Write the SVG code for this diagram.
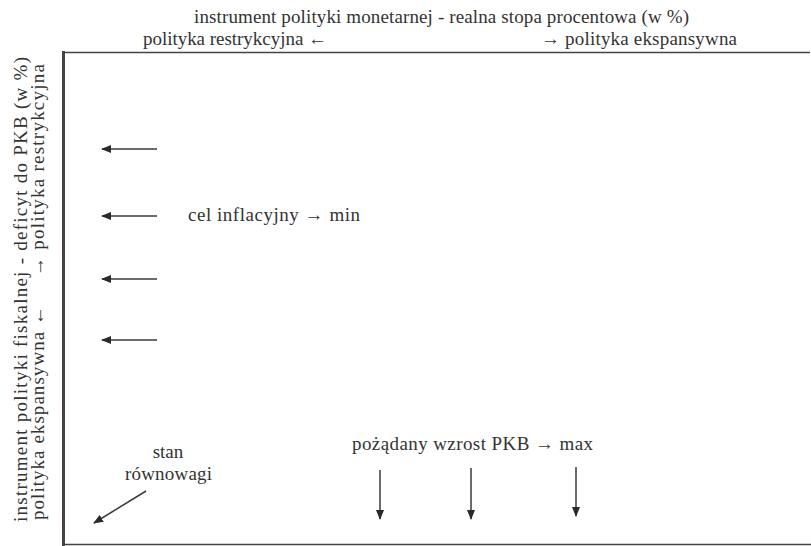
<svg xmlns="http://www.w3.org/2000/svg" width="811" height="546" viewBox="0 0 811 546">
<style>
text{font-family:"Liberation Serif","Times New Roman",serif;font-size:19px;fill:#333}
.ax{stroke:#444;fill:none}
.ar{stroke:#3a3a3a;stroke-width:1.5;fill:none}
</style>
<defs>
<marker id="ah" viewBox="0 0 10 8" refX="9" refY="4" markerWidth="10" markerHeight="8" markerUnits="userSpaceOnUse" orient="auto">
<path d="M0,0 L10,4 L0,8 Z" fill="#2b2b2b"/>
</marker>
</defs>
<rect width="811" height="546" fill="#fff"/>
<g id="frame">
<line class="ax" x1="62" y1="52.5" x2="810" y2="52.5" stroke-width="1.4" stroke="#555"/>
<line class="ax" x1="63.5" y1="51" x2="63.5" y2="546" stroke-width="3" stroke="#333"/>
<line class="ax" x1="62" y1="544.5" x2="811" y2="544.5" stroke-width="1.3" stroke="#888"/>
</g>
<g id="axis-top">
<text x="194" y="23" textLength="495" lengthAdjust="spacing">instrument polityki monetarnej - realna stopa procentowa (w %)</text>
<text x="143" y="45" textLength="184" lengthAdjust="spacing">polityka restrykcyjna ←</text>
<text x="541" y="45" textLength="196" lengthAdjust="spacing">→ polityka ekspansywna</text>
</g>
<g id="axis-left">
<text transform="translate(27,522) rotate(-90)" x="0" y="0" textLength="465" lengthAdjust="spacing">instrument polityki fiskalnej - deficyt do PKB (w %)</text>
<text transform="translate(44,520) rotate(-90)" x="0" y="0" textLength="214" lengthAdjust="spacing">polityka ekspansywna   ←</text>
<text transform="translate(44,276) rotate(-90)" x="0" y="0" textLength="212" lengthAdjust="spacing">→   polityka restrykcyjna</text>
</g>
<g id="cel">
<text x="188" y="221" textLength="172" lengthAdjust="spacing">cel inflacyjny → min</text>
</g>
<g id="stan">
<text x="168" y="458" text-anchor="middle">stan</text>
<text x="125" y="480" textLength="87" lengthAdjust="spacing">równowagi</text>
</g>
<g id="wzrost">
<text x="352" y="450" textLength="241" lengthAdjust="spacing">pożądany wzrost PKB → max</text>
</g>
<g id="connectors">
<line class="ar" x1="157" y1="149" x2="102" y2="149" marker-end="url(#ah)"/>
<line class="ar" x1="157" y1="216" x2="102" y2="216" marker-end="url(#ah)"/>
<line class="ar" x1="157" y1="279" x2="102" y2="279" marker-end="url(#ah)"/>
<line class="ar" x1="157" y1="340" x2="102" y2="340" marker-end="url(#ah)"/>
<line class="ar" x1="146" y1="491" x2="94" y2="523" marker-end="url(#ah)"/>
<line class="ar" x1="380" y1="470" x2="380" y2="519" marker-end="url(#ah)"/>
<line class="ar" x1="471" y1="468" x2="471" y2="519" marker-end="url(#ah)"/>
<line class="ar" x1="576" y1="467" x2="576" y2="516" marker-end="url(#ah)"/>
</g>
</svg>
